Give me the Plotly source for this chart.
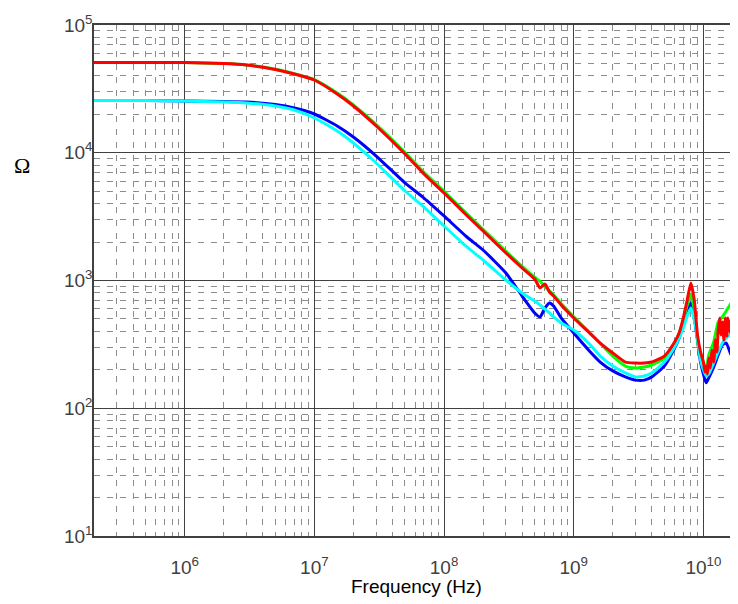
import plotly.graph_objects as go

# ---------------- data ----------------
freq_hz = [2e5, 5e5, 1e6, 2e6, 3e6, 5e6, 7e6,
           1e7, 1.5e7, 2e7, 3e7, 5e7, 7e7,
           1e8, 1.5e8, 2e8, 3e8, 4e8, 5e8, 5.5e8, 6e8, 6.5e8, 7e8, 8e8,
           1e9, 1.3e9, 1.6e9, 2e9, 2.5e9, 3e9, 3.5e9, 4e9, 5e9, 6e9, 6.5e9,
           7e9, 7.5e9, 8e9, 8.5e9, 9e9, 9.5e9,
           1e10, 1.05e10, 1.1e10, 1.2e10, 1.3e10, 1.4e10, 1.5e10, 1.6e10,
           1.7e10, 1.8e10, 1.85e10]

blue_ohm = [25600, 25600, 25400, 25200, 24960, 23860, 22400,
            20110, 16200, 13280, 9430, 5800, 4420,
            3200, 2190, 1733, 1145, 756, 557, 518, 609, 667, 632, 509,
            388, 286, 230, 196, 176, 166, 166, 176, 214, 296, 355,
            448, 567, 667, 509, 342, 230,
            185, 158, 173, 210, 261, 313, 324, 276,
            239, 218, 207]

cyan_ohm = [25600, 25600, 25400, 24960, 24510, 23220, 21610,
            18710, 14800, 11920, 8310, 5020, 3760,
            2670, 1830, 1447, 1009, 798, 691, 643, 598, 557, 518, 465,
            410, 324, 256, 214, 189, 176, 179, 189, 230, 302, 355,
            425, 527, 609, 491, 355, 239,
            199, 179, 185, 226, 276, 324, 355, 375,
            425, 473, 491]

green_ohm = [50900, 50900, 50900, 50000, 48700, 45000, 41500,
             37300, 29300, 23700, 16600, 10050, 7020,
             4990, 3330, 2510, 1690, 1290, 1060, 985, 895, 830, 770, 660,
             520, 400, 322, 256, 214, 207, 210, 218, 247, 324, 388,
             491, 643, 784, 588, 342, 247,
             218, 207, 261, 330, 473, 518, 577, 643,
             704, 756, 798]

red_freq_hz = [2e5, 5e5, 1e6, 2e6, 3e6, 5e6, 7e6,
               1e7, 1.5e7, 2e7, 3e7, 5e7, 7e7,
               1e8, 1.5e8, 2e8, 3e8, 4e8, 5e8, 5.5e8, 6e8, 6.5e8, 7e8, 8e8,
               1e9, 1.3e9, 1.6e9, 2e9, 2.5e9, 3e9, 3.5e9, 4e9, 5e9, 6e9, 6.5e9,
               7e9, 7.5e9, 8e9, 8.5e9, 9e9, 9.5e9,
               1e10, 1.027e10, 1.049e10, 1.074e10, 1.1e10, 1.132e10, 1.163e10,
               1.2e10, 1.237e10, 1.271e10, 1.3e10, 1.34e10, 1.364e10, 1.4e10,
               1.439e10, 1.478e10, 1.518e10, 1.545e10, 1.6e10, 1.629e10,
               1.673e10, 1.7e10, 1.734e10, 1.78e10, 1.812e10, 1.848e10]

red_ohm = [50900, 50900, 50900, 49950, 48630, 44850, 41340,
           37110, 28830, 23220, 16200, 9780, 6820,
           4840, 3230, 2440, 1642, 1253, 1027, 873, 939, 813, 756, 643,
           509, 395, 324, 271, 230, 226, 226, 230, 256, 330, 388,
           509, 704, 956, 704, 375, 276,
           230, 192, 214, 185, 247, 207, 286,
           230, 342, 276, 410, 509, 375, 473,
           342, 509, 368, 509, 395, 491,
           342, 261, 448, 537, 313, 342]

x_tickvals = [1e6, 1e7, 1e8, 1e9, 1e10]
x_ticktext = ["10<sup>6</sup>", "10<sup>7</sup>", "10<sup>8</sup>",
              "10<sup>9</sup>", "10<sup>10</sup>"]
y_tickvals = [1e1, 1e2, 1e3, 1e4, 1e5]
y_ticktext = ["10<sup>1</sup>", "10<sup>2</sup>", "10<sup>3</sup>",
              "10<sup>4</sup>", "10<sup>5</sup>"]

x_label = "Frequency (Hz)"
y_label = "Ω"

# ---------------- figure ----------------
fig = go.Figure()
lw = 3
for xs, ys, col in [(freq_hz, blue_ohm, "#0000ff"),
                    (freq_hz, green_ohm, "#00ff00"),
                    (freq_hz, cyan_ohm, "#00ffff"),
                    (red_freq_hz, red_ohm, "#ff0000")]:
    fig.add_trace(go.Scatter(x=xs, y=ys, mode="lines",
                             line=dict(color=col, width=lw,
                                       shape="spline", smoothing=0.5)))

tick_font = dict(family="Liberation Sans, Arial", size=19, color="#404040")
minor_style = dict(dtick="D1", showgrid=True, gridcolor="#8c8c8c",
                   griddash="6px,7px", gridwidth=1, ticks="")

fig.update_xaxes(type="log", range=[5.30103, 10.2667],
                 tickvals=x_tickvals, ticktext=x_ticktext,
                 showgrid=True, gridcolor="#404040", gridwidth=1,
                 minor=minor_style,
                 showline=True, linecolor="#404040", linewidth=1.5,
                 mirror=True, ticks="", tickfont=tick_font,
                 ticklabelstandoff=13, zeroline=False)
fig.update_yaxes(type="log", range=[1, 5],
                 tickvals=y_tickvals, ticktext=y_ticktext,
                 showgrid=True, gridcolor="#404040", gridwidth=1,
                 minor=minor_style,
                 showline=True, linecolor="#404040", linewidth=1.5,
                 mirror=False, ticks="", tickfont=tick_font,
                 ticklabelstandoff=-4, zeroline=False)

fig.add_annotation(text=x_label, xref="paper", yref="paper",
                   x=0.5, y=-0.098, yanchor="middle", xanchor="center",
                   showarrow=False,
                   font=dict(family="Liberation Sans, Arial",
                             size=19, color="#000000"))
fig.add_annotation(text=y_label, xref="paper", yref="paper",
                   x=-0.112, y=0.726, xanchor="center", yanchor="middle",
                   showarrow=False,
                   font=dict(family="Liberation Serif, Times New Roman, serif",
                             size=22, color="#000000"))

# page body adds an 8px offset, so the figure is 730x596
fig.update_layout(width=730, height=596,
                  margin=dict(l=86, r=0, t=17, b=68, autoexpand=False),
                  plot_bgcolor="#ffffff", paper_bgcolor="#ffffff",
                  showlegend=False)

fig.write_html("out.html")
